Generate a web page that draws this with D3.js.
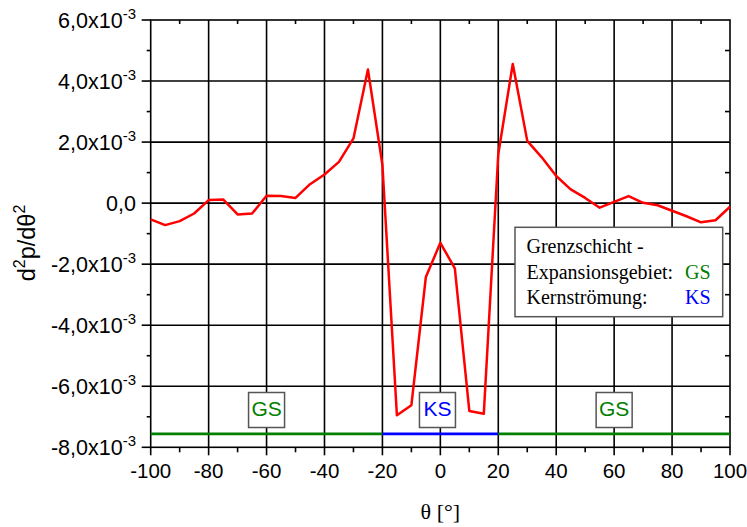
<!DOCTYPE html>
<html>
<head>
<meta charset="utf-8">
<script src="https://cdn.jsdelivr.net/npm/d3@7"></script>
<style>
  html, body { margin: 0; padding: 0; background: #fff; }
  svg { display: block; }
  .sans { font-family: Arial, "Liberation Sans", sans-serif; }
  .serif { font-family: "Times New Roman", "Liberation Serif", serif; }
</style>
</head>
<body>
<script>
// Angle positions (degrees) and second derivative of pressure (units of 1e-3)
const theta = [-100, -95, -90, -85, -80, -75, -70, -65, -60, -55, -50, -45, -40, -35, -30, -25, -20, -15, -10, -5,
               0, 5, 10, 15, 20, 25, 30, 35, 40, 45, 50, 55, 60, 65, 70, 75, 80, 85, 90, 95, 100];
const d2p = [-0.53, -0.72, -0.59, -0.34, 0.10, 0.12, -0.37, -0.34, 0.24, 0.23, 0.17, 0.62, 0.94, 1.35, 2.12, 4.38, 1.25, -6.95, -6.62, -2.42,
             -1.30, -2.14, -6.81, -6.90, 1.60, 4.56, 2.04, 1.50, 0.89, 0.45, 0.17, -0.15, 0.04, 0.23, 0.01, -0.07, -0.25, -0.43, -0.63, -0.56, -0.12];

// Flow regions along the bottom of the plot
const regionStart = [-100, -20, 20];
const regionEnd = [-20, 20, 100];
const regionName = ["GS", "KS", "GS"];
const regionColor = ["#008000", "#0000ff", "#008000"];
const regionLevel = -7.56;          // x1e-3
const regionLabelAt = [-60, -1, 60];

// Axis ticks
const xMajor = [-100, -80, -60, -40, -20, 0, 20, 40, 60, 80, 100];
const xMinor = [-90, -70, -50, -30, -10, 10, 30, 50, 70, 90];
const yMajor = [-8, -6, -4, -2, 0, 2, 4, 6];        // x1e-3
const yMinor = [-7, -5, -3, -1, 1, 3, 5];
const yTickMain = ["-8,0x10", "-6,0x10", "-4,0x10", "-2,0x10", "0,0", "2,0x10", "4,0x10", "6,0x10"];
const yTickExp = ["-3", "-3", "-3", "-3", "", "-3", "-3", "-3"];

const W = 747, H = 527;
const pL = 150.7, pR = 730, pT = 20, pB = 447.3;

const svg = d3.select("body").append("svg").attr("width", W).attr("height", H);

const x = d3.scaleLinear().domain([-100, 100]).range([pL, pR]);
const y = d3.scaleLinear().domain([-8, 6]).range([pB, pT]);

// Grid at major ticks
const grid = svg.append("g").attr("stroke", "#000").attr("stroke-width", 1.6);
grid.selectAll("line.gx").data(xMajor.slice(1, -1)).join("line").attr("class", "gx")
  .attr("x1", d => x(d)).attr("x2", d => x(d)).attr("y1", pT).attr("y2", pB);
grid.selectAll("line.gy").data(yMajor.slice(1, -1)).join("line").attr("class", "gy")
  .attr("y1", d => y(d)).attr("y2", d => y(d)).attr("x1", pL).attr("x2", pR);

// Frame and tick marks
const ax = svg.append("g").attr("stroke", "#000").attr("stroke-width", 1.6).attr("fill", "none");
ax.append("rect").attr("x", pL).attr("y", pT).attr("width", pR - pL).attr("height", pB - pT);

// bottom: outward
ax.selectAll("line.bM").data(xMajor).join("line").attr("class", "bM")
  .attr("x1", d => x(d)).attr("x2", d => x(d)).attr("y1", pB).attr("y2", pB + 8);
ax.selectAll("line.bm").data(xMinor).join("line").attr("class", "bm")
  .attr("x1", d => x(d)).attr("x2", d => x(d)).attr("y1", pB).attr("y2", pB + 5);
// top: inward
ax.selectAll("line.tm").data(xMinor).join("line").attr("class", "tm")
  .attr("x1", d => x(d)).attr("x2", d => x(d)).attr("y1", pT).attr("y2", pT + 4);
// left: outward
ax.selectAll("line.lM").data(yMajor).join("line").attr("class", "lM")
  .attr("y1", d => y(d)).attr("y2", d => y(d)).attr("x1", pL - 9).attr("x2", pL);
ax.selectAll("line.lm").data(yMinor).join("line").attr("class", "lm")
  .attr("y1", d => y(d)).attr("y2", d => y(d)).attr("x1", pL - 4).attr("x2", pL);
// right: inward
ax.selectAll("line.rm").data(yMinor).join("line").attr("class", "rm")
  .attr("y1", d => y(d)).attr("y2", d => y(d)).attr("x1", pR - 5).attr("x2", pR);

// X tick labels
svg.append("g").attr("class", "sans").attr("font-size", 20.5).attr("fill", "#000")
  .selectAll("text").data(xMajor).join("text")
  .attr("x", d => x(d)).attr("y", 478).attr("text-anchor", "middle").text(d => d);

// Y tick labels with exponent
const yl = svg.append("g").attr("class", "sans").attr("fill", "#000");
yMajor.forEach((v, i) => {
  const t = yl.append("text").attr("x", 136).attr("y", y(v) + 7.5).attr("text-anchor", "end").attr("font-size", 21.5);
  t.append("tspan").text(yTickMain[i]);
  if (yTickExp[i]) t.append("tspan").attr("font-size", 15).attr("dy", -8.5).text(yTickExp[i]);
});

// Axis titles
const ytitle = svg.append("text").attr("class", "sans").attr("font-size", 23.5)
  .attr("transform", "translate(35,243) rotate(-90)").attr("text-anchor", "middle");
ytitle.append("tspan").text("d");
ytitle.append("tspan").attr("font-size", 16).attr("dy", -10).text("2");
ytitle.append("tspan").attr("dy", 10).text("p/d\u03b8");
ytitle.append("tspan").attr("font-size", 16).attr("dy", -10).text("2");

svg.append("text").attr("class", "serif").attr("font-size", 22)
  .attr("x", x(0)).attr("y", 519).attr("text-anchor", "middle").text("\u03b8 [\u00b0]");

// Region lines
svg.append("g").selectAll("line").data(regionStart).join("line")
  .attr("x1", d => x(d)).attr("x2", (d, i) => x(regionEnd[i]))
  .attr("y1", y(regionLevel)).attr("y2", y(regionLevel))
  .attr("stroke", (d, i) => regionColor[i]).attr("stroke-width", 2.6);

// Data curve
const pts = theta.map((t, i) => [t, d2p[i]]);
svg.append("path").datum(pts)
  .attr("d", d3.line().x(d => x(d[0])).y(d => y(d[1])))
  .attr("fill", "none").attr("stroke", "#ff0000").attr("stroke-width", 2.5).attr("stroke-linejoin", "round");

// Region labels in boxes
const lb = svg.append("g").attr("class", "sans");
regionLabelAt.forEach((t, i) => {
  const cx = x(t);
  lb.append("rect").attr("x", cx - 18).attr("y", 392.5).attr("width", 36).attr("height", 35)
    .attr("fill", "#fff").attr("stroke", "#555").attr("stroke-width", 1.5);
  lb.append("text").attr("x", cx).attr("y", 415.5).attr("text-anchor", "middle")
    .attr("font-size", 21).attr("fill", regionColor[i]).text(regionName[i]);
});

// Legend box
const lg = svg.append("g").attr("class", "serif").attr("font-size", 20);
lg.append("rect").attr("x", 515).attr("y", 227.3).attr("width", 207.7).attr("height", 89.4)
  .attr("fill", "#fff").attr("stroke", "#555").attr("stroke-width", 1.5);
lg.append("text").attr("x", 526.5).attr("y", 253.3).text("Grenzschicht -");
lg.append("text").attr("x", 526.5).attr("y", 279.3).text("Expansionsgebiet:");
lg.append("text").attr("x", 685).attr("y", 279.3).attr("fill", regionColor[0]).text(regionName[0]);
lg.append("text").attr("x", 526.5).attr("y", 303.5).text("Kernstr\u00f6mung:");
lg.append("text").attr("x", 685).attr("y", 303.5).attr("fill", regionColor[1]).text(regionName[1]);
</script>
</body>
</html>
